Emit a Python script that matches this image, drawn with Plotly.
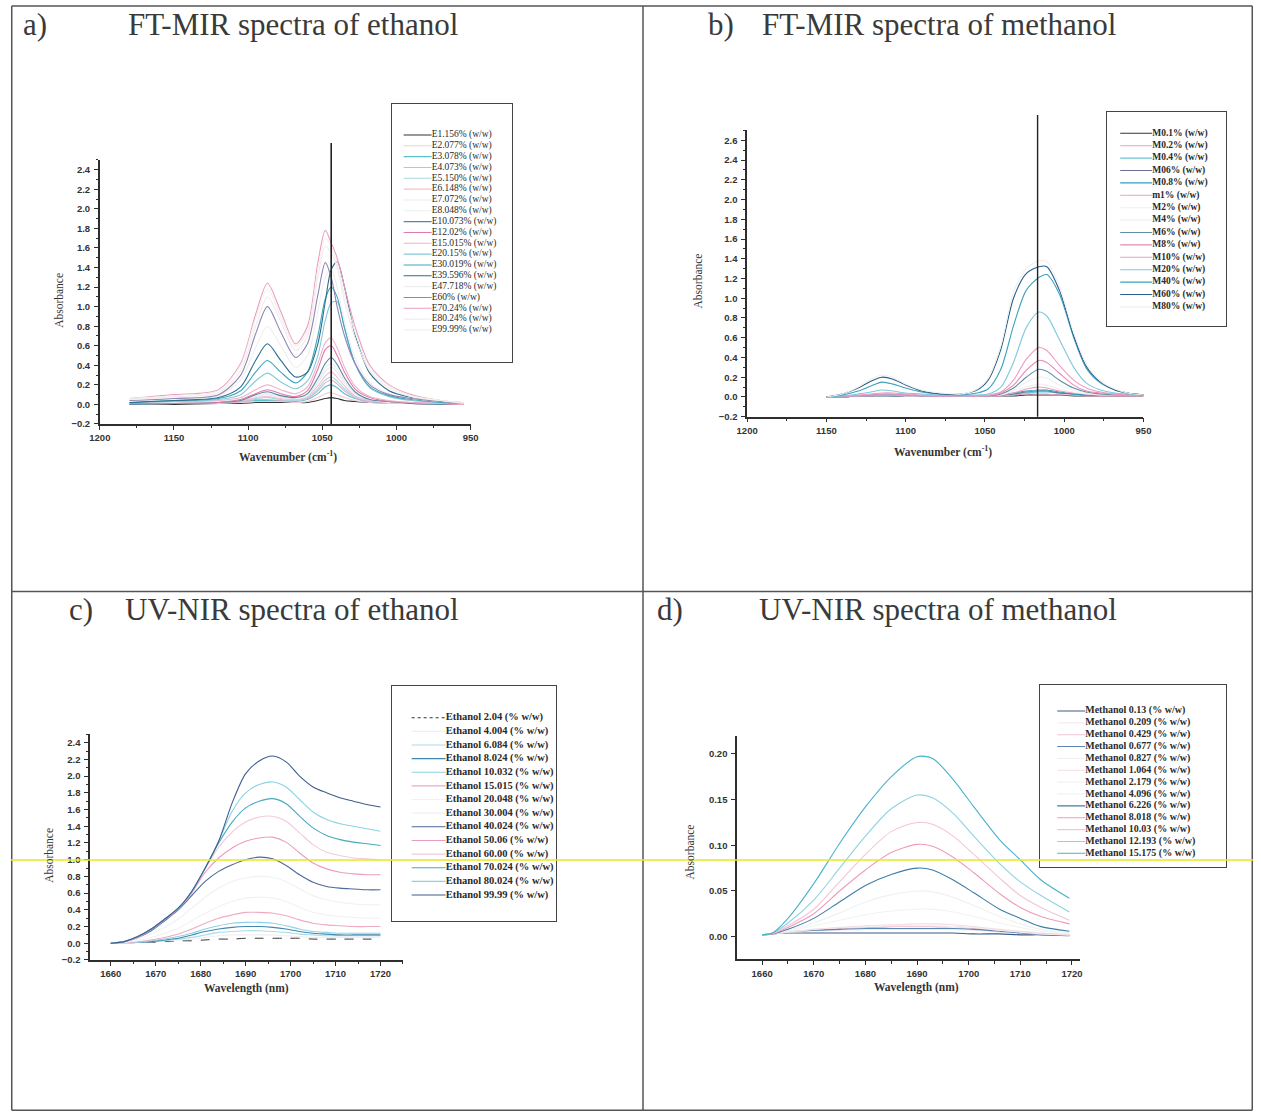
import plotly.graph_objects as go

W, H = 1261, 1116

# page layout helpers: positions are given in page pixels and converted to
# paper fractions; a small scale factor keeps the outer frame inside the page
SX, OX = 0.98555, 17.0
SY, OY = 0.9955, 6.0


def X(x):
    return 7 + (x - OX) / SX


def Y(y):
    return OY + (y - OY) / SY


def px(x):
    return min(max(X(x), 0.0), W) / W


def py(y):
    return 1 - min(max(Y(y), 0.0), H) / H


# ---------------------------------------------------------------- a) FT-MIR ethanol
mir_eth_x = [1180, 1150, 1120, 1105, 1095, 1087, 1078, 1068, 1060, 1053,
             1048, 1044, 1040, 1035, 1028, 1018, 1005, 990, 970, 955]
mir_eth_names = ["E1.156% (w/w)", "E2.077% (w/w)", "E3.078% (w/w)", "E4.073% (w/w)",
                 "E5.150% (w/w)", "E6.148% (w/w)", "E7.072% (w/w)", "E8.048% (w/w)",
                 "E10.073% (w/w)", "E12.02% (w/w)", "E15.015% (w/w)", "E20.15% (w/w)",
                 "E30.019% (w/w)", "E39.596% (w/w)", "E47.718% (w/w)", "E60% (w/w)",
                 "E70.24% (w/w)", "E80.24% (w/w)", "E99.99% (w/w)"]
mir_eth_colors = ["#333333", "#f2cdd8", "#5cbfcc", "#dcb3cc", "#a6dae6", "#f2c0ce",
                  "#efe8eb", "#e9efef", "#5a86a0", "#e07aae", "#efb5ca", "#86c9d6",
                  "#3fa6c2", "#2b6d8e", "#eeeeee", "#8f86b4", "#ec9cc4", "#f2ebee",
                  "#f1f1ea"]
mir_eth_y = [
    [0.00, 0.00, 0.01, 0.01, 0.02, 0.02, 0.02, 0.02, 0.02, 0.04, 0.06, 0.07, 0.06, 0.04, 0.03, 0.02, 0.01, 0.01, 0.00, 0.00],
    [0.00, 0.01, 0.01, 0.02, 0.03, 0.03, 0.03, 0.02, 0.03, 0.07, 0.11, 0.12, 0.10, 0.07, 0.04, 0.02, 0.01, 0.01, 0.00, 0.00],
    [0.01, 0.01, 0.02, 0.03, 0.04, 0.04, 0.04, 0.03, 0.05, 0.11, 0.18, 0.20, 0.17, 0.11, 0.06, 0.03, 0.02, 0.01, 0.01, 0.00],
    [0.00, 0.01, 0.02, 0.03, 0.05, 0.05, 0.04, 0.04, 0.06, 0.14, 0.22, 0.25, 0.21, 0.14, 0.07, 0.03, 0.02, 0.01, 0.00, 0.00],
    [0.01, 0.02, 0.02, 0.04, 0.06, 0.07, 0.05, 0.04, 0.07, 0.16, 0.25, 0.28, 0.24, 0.16, 0.08, 0.04, 0.02, 0.01, 0.01, 0.00],
    [0.01, 0.02, 0.03, 0.04, 0.07, 0.08, 0.06, 0.05, 0.08, 0.19, 0.29, 0.33, 0.28, 0.19, 0.09, 0.04, 0.02, 0.01, 0.01, 0.00],
    [0.01, 0.02, 0.03, 0.05, 0.08, 0.10, 0.07, 0.06, 0.09, 0.22, 0.34, 0.38, 0.33, 0.22, 0.11, 0.05, 0.02, 0.01, 0.01, 0.00],
    [0.01, 0.02, 0.03, 0.05, 0.09, 0.11, 0.08, 0.06, 0.10, 0.24, 0.37, 0.42, 0.36, 0.24, 0.12, 0.05, 0.03, 0.01, 0.01, 0.00],
    [0.00, 0.01, 0.02, 0.04, 0.10, 0.13, 0.09, 0.07, 0.11, 0.27, 0.42, 0.48, 0.41, 0.27, 0.13, 0.05, 0.03, 0.01, 0.00, 0.00],
    [0.01, 0.01, 0.02, 0.05, 0.11, 0.15, 0.11, 0.08, 0.14, 0.36, 0.56, 0.60, 0.50, 0.33, 0.16, 0.07, 0.03, 0.02, 0.01, 0.00],
    [0.02, 0.03, 0.04, 0.07, 0.15, 0.20, 0.15, 0.11, 0.18, 0.42, 0.63, 0.68, 0.58, 0.38, 0.19, 0.08, 0.04, 0.02, 0.01, 0.00],
    [0.02, 0.03, 0.05, 0.10, 0.24, 0.32, 0.23, 0.16, 0.24, 0.50, 0.86, 1.04, 1.05, 0.78, 0.42, 0.17, 0.08, 0.04, 0.02, 0.01],
    [0.02, 0.04, 0.06, 0.14, 0.33, 0.45, 0.33, 0.22, 0.33, 0.70, 1.08, 1.20, 1.10, 0.78, 0.42, 0.18, 0.09, 0.05, 0.02, 0.01],
    [0.02, 0.04, 0.07, 0.18, 0.45, 0.62, 0.45, 0.28, 0.33, 0.62, 1.05, 1.38, 1.46, 1.20, 0.72, 0.32, 0.14, 0.07, 0.03, 0.01],
    [0.04, 0.06, 0.09, 0.25, 0.58, 0.80, 0.60, 0.38, 0.50, 0.95, 1.30, 1.38, 1.20, 0.85, 0.48, 0.22, 0.11, 0.06, 0.03, 0.01],
    [0.04, 0.06, 0.10, 0.30, 0.72, 1.00, 0.74, 0.48, 0.62, 1.12, 1.45, 1.30, 1.00, 0.70, 0.42, 0.20, 0.10, 0.06, 0.03, 0.01],
    [0.06, 0.10, 0.15, 0.42, 0.92, 1.24, 0.95, 0.62, 0.80, 1.45, 1.78, 1.65, 1.50, 1.20, 0.80, 0.40, 0.20, 0.10, 0.04, 0.02],
    [0.05, 0.08, 0.12, 0.35, 0.80, 1.10, 0.85, 0.55, 0.70, 1.30, 1.62, 1.55, 1.40, 1.05, 0.68, 0.34, 0.17, 0.08, 0.04, 0.01],
    [0.06, 0.09, 0.14, 0.40, 0.88, 1.18, 0.90, 0.60, 0.75, 1.38, 1.70, 1.62, 1.45, 1.12, 0.74, 0.37, 0.19, 0.09, 0.04, 0.02],
]
mir_eth_marker = 1044

# ---------------------------------------------------------------- b) FT-MIR methanol
mir_met_x = [1150, 1140, 1130, 1122, 1115, 1108, 1100, 1090, 1078, 1065, 1055, 1048,
             1040, 1032, 1024, 1016, 1011, 1003, 994, 986, 977, 968, 960, 950]
mir_met_names = ["M0.1% (w/w)", "M0.2% (w/w)", "M0.4% (w/w)", "M06% (w/w)", "M0.8% (w/w)",
                 "m1% (w/w)", "M2% (w/w)", "M4% (w/w)", "M6% (w/w)", "M8% (w/w)",
                 "M10% (w/w)", "M20% (w/w)", "M40% (w/w)", "M60% (w/w)", "M80% (w/w)"]
mir_met_colors = ["#333333", "#ee9fc0", "#6cc6d4", "#6b6f93", "#2f9fbf", "#ee9fc4",
                  "#f3eef0", "#eef2f2", "#5f8ea6", "#e58ab5", "#ef9cc6", "#7fc7dc",
                  "#3ba2c0", "#2a5f8c", "#f2f0ee"]
mir_met_y = [
    [0.00, 0.00, 0.01, 0.01, 0.01, 0.01, 0.01, 0.01, 0.01, 0.01, 0.01, 0.01, 0.01, 0.01, 0.02, 0.02, 0.02, 0.02, 0.01, 0.01, 0.01, 0.01, 0.01, 0.01],
    [0.00, 0.00, 0.01, 0.01, 0.01, 0.01, 0.01, 0.01, 0.01, 0.01, 0.01, 0.01, 0.01, 0.02, 0.03, 0.03, 0.03, 0.02, 0.02, 0.01, 0.01, 0.01, 0.01, 0.01],
    [0.00, 0.00, 0.01, 0.01, 0.01, 0.01, 0.01, 0.01, 0.01, 0.01, 0.01, 0.01, 0.02, 0.03, 0.04, 0.05, 0.05, 0.04, 0.03, 0.02, 0.02, 0.02, 0.02, 0.02],
    [0.00, 0.00, 0.01, 0.01, 0.02, 0.01, 0.01, 0.01, 0.01, 0.01, 0.01, 0.01, 0.02, 0.03, 0.05, 0.06, 0.06, 0.04, 0.03, 0.02, 0.02, 0.02, 0.02, 0.02],
    [0.00, 0.00, 0.01, 0.01, 0.02, 0.02, 0.01, 0.01, 0.01, 0.01, 0.01, 0.01, 0.02, 0.04, 0.06, 0.07, 0.07, 0.05, 0.03, 0.02, 0.02, 0.02, 0.02, 0.02],
    [0.00, 0.00, 0.01, 0.01, 0.02, 0.02, 0.01, 0.01, 0.01, 0.01, 0.01, 0.01, 0.02, 0.04, 0.08, 0.10, 0.09, 0.06, 0.04, 0.03, 0.02, 0.02, 0.02, 0.02],
    [0.00, 0.01, 0.01, 0.02, 0.02, 0.02, 0.01, 0.01, 0.01, 0.01, 0.01, 0.01, 0.02, 0.06, 0.10, 0.13, 0.12, 0.08, 0.05, 0.03, 0.02, 0.02, 0.02, 0.02],
    [0.00, 0.01, 0.01, 0.02, 0.02, 0.02, 0.02, 0.01, 0.01, 0.01, 0.01, 0.01, 0.03, 0.07, 0.15, 0.20, 0.19, 0.12, 0.07, 0.04, 0.03, 0.02, 0.02, 0.02],
    [0.00, 0.01, 0.01, 0.02, 0.02, 0.02, 0.02, 0.01, 0.01, 0.01, 0.01, 0.01, 0.03, 0.09, 0.20, 0.28, 0.26, 0.17, 0.09, 0.05, 0.03, 0.02, 0.02, 0.02],
    [0.00, 0.01, 0.01, 0.02, 0.03, 0.03, 0.02, 0.01, 0.01, 0.01, 0.01, 0.01, 0.04, 0.12, 0.27, 0.37, 0.35, 0.24, 0.12, 0.06, 0.04, 0.03, 0.02, 0.02],
    [0.00, 0.01, 0.02, 0.03, 0.04, 0.04, 0.03, 0.02, 0.01, 0.01, 0.01, 0.02, 0.05, 0.17, 0.38, 0.50, 0.47, 0.32, 0.17, 0.09, 0.05, 0.03, 0.02, 0.02],
    [0.00, 0.01, 0.03, 0.05, 0.07, 0.06, 0.04, 0.03, 0.02, 0.01, 0.02, 0.03, 0.10, 0.35, 0.70, 0.86, 0.82, 0.58, 0.30, 0.14, 0.07, 0.04, 0.03, 0.02],
    [0.00, 0.02, 0.06, 0.11, 0.15, 0.13, 0.09, 0.05, 0.03, 0.02, 0.04, 0.08, 0.28, 0.72, 1.08, 1.21, 1.24, 1.04, 0.60, 0.29, 0.14, 0.07, 0.04, 0.02],
    [0.00, 0.03, 0.09, 0.16, 0.20, 0.18, 0.12, 0.06, 0.03, 0.03, 0.07, 0.17, 0.48, 1.00, 1.25, 1.32, 1.32, 1.08, 0.62, 0.31, 0.15, 0.07, 0.04, 0.02],
    [0.00, 0.03, 0.10, 0.18, 0.22, 0.20, 0.13, 0.07, 0.04, 0.03, 0.08, 0.19, 0.52, 1.06, 1.30, 1.38, 1.37, 1.12, 0.65, 0.33, 0.16, 0.08, 0.04, 0.02],
]
mir_met_marker = 1016.8

# ---------------------------------------------------------------- c) UV-NIR ethanol
nir_eth_x = [1660, 1663, 1666, 1669, 1672, 1675, 1678, 1681, 1684, 1687, 1690,
             1693, 1696, 1699, 1702, 1705, 1708, 1711, 1714, 1717, 1720]
nir_eth_names = ["Ethanol 2.04 (% w/w)", "Ethanol 4.004 (% w/w)", "Ethanol 6.084 (% w/w)",
                 "Ethanol 8.024 (% w/w)", "Ethanol 10.032 (% w/w)", "Ethanol 15.015 (% w/w)",
                 "Ethanol 20.048 (% w/w)", "Ethanol 30.004 (% w/w)", "Ethanol 40.024 (% w/w)",
                 "Ethanol 50.06 (% w/w)", "Ethanol 60.00 (% w/w)", "Ethanol 70.024 (% w/w)",
                 "Ethanol 80.024 (% w/w)", "Ethanol 99.99 (% w/w)"]
nir_eth_colors = ["#333333", "#f3eef0", "#a9dce8", "#3f88ae", "#8fd3e2", "#efaac4",
                  "#f4f0f0", "#eef2f2", "#4d6a98", "#ec9cc0", "#f1cadb", "#46a9c2",
                  "#8bd2e2", "#3f5d8c"]
nir_eth_dash = ["dash"] + ["solid"] * 13
nir_eth_y = [
    [0.00, 0.00, 0.01, 0.01, 0.02, 0.03, 0.03, 0.04, 0.05, 0.05, 0.06, 0.06, 0.06, 0.06, 0.06, 0.05, 0.05, 0.05, 0.05, 0.05, 0.05],
    [0.00, 0.00, 0.01, 0.02, 0.03, 0.04, 0.05, 0.07, 0.09, 0.10, 0.10, 0.10, 0.10, 0.09, 0.08, 0.07, 0.07, 0.07, 0.07, 0.07, 0.07],
    [0.00, 0.00, 0.01, 0.02, 0.03, 0.05, 0.07, 0.10, 0.13, 0.14, 0.15, 0.15, 0.14, 0.13, 0.11, 0.10, 0.09, 0.09, 0.09, 0.09, 0.09],
    [0.00, 0.01, 0.01, 0.02, 0.04, 0.06, 0.10, 0.14, 0.17, 0.19, 0.20, 0.20, 0.19, 0.17, 0.14, 0.12, 0.11, 0.10, 0.10, 0.10, 0.10],
    [0.00, 0.01, 0.01, 0.03, 0.05, 0.08, 0.12, 0.17, 0.21, 0.24, 0.25, 0.25, 0.24, 0.21, 0.17, 0.14, 0.13, 0.12, 0.12, 0.12, 0.12],
    [0.00, 0.01, 0.02, 0.04, 0.07, 0.11, 0.17, 0.24, 0.30, 0.34, 0.37, 0.37, 0.36, 0.33, 0.28, 0.24, 0.22, 0.21, 0.20, 0.20, 0.20],
    [0.00, 0.01, 0.03, 0.07, 0.12, 0.18, 0.27, 0.36, 0.44, 0.50, 0.54, 0.55, 0.54, 0.50, 0.43, 0.37, 0.34, 0.32, 0.31, 0.30, 0.30],
    [0.00, 0.02, 0.05, 0.11, 0.19, 0.29, 0.42, 0.55, 0.66, 0.74, 0.78, 0.80, 0.79, 0.74, 0.65, 0.57, 0.52, 0.49, 0.47, 0.46, 0.46],
    [0.00, 0.02, 0.07, 0.15, 0.27, 0.40, 0.57, 0.74, 0.86, 0.94, 1.00, 1.03, 1.01, 0.93, 0.82, 0.73, 0.68, 0.66, 0.65, 0.64, 0.64],
    [0.00, 0.02, 0.07, 0.16, 0.28, 0.41, 0.60, 0.85, 1.02, 1.14, 1.22, 1.26, 1.27, 1.21, 1.08, 0.96, 0.89, 0.85, 0.83, 0.82, 0.82],
    [0.00, 0.02, 0.08, 0.17, 0.29, 0.42, 0.62, 0.89, 1.15, 1.33, 1.45, 1.51, 1.52, 1.46, 1.32, 1.18, 1.09, 1.05, 1.02, 1.01, 1.00],
    [0.00, 0.02, 0.08, 0.17, 0.29, 0.42, 0.62, 0.90, 1.20, 1.45, 1.62, 1.70, 1.73, 1.67, 1.52, 1.38, 1.29, 1.24, 1.21, 1.19, 1.17],
    [0.00, 0.02, 0.08, 0.17, 0.29, 0.42, 0.62, 0.90, 1.22, 1.58, 1.80, 1.90, 1.93, 1.87, 1.72, 1.57, 1.48, 1.43, 1.40, 1.37, 1.34],
    [0.00, 0.02, 0.08, 0.17, 0.29, 0.42, 0.62, 0.90, 1.22, 1.68, 2.03, 2.18, 2.24, 2.17, 2.00, 1.87, 1.80, 1.74, 1.70, 1.66, 1.63],
]

# ---------------------------------------------------------------- d) UV-NIR methanol
nir_met_x = [1660, 1662, 1665, 1670, 1675, 1680, 1685, 1690, 1693, 1697,
             1701, 1706, 1710, 1714, 1719.5]
nir_met_names = ["Methanol 0.13 (% w/w)", "Methanol 0.209 (% w/w)", "Methanol 0.429 (% w/w)",
                 "Methanol 0.677 (% w/w)", "Methanol 0.827 (% w/w)", "Methanol 1.064 (% w/w)",
                 "Methanol 2.179 (% w/w)", "Methanol 4.096 (% w/w)", "Methanol 6.226 (% w/w)",
                 "Methanol 8.018 (% w/w)", "Methanol 10.03 (% w/w)", "Methanol 12.193 (% w/w)",
                 "Methanol 15.175 (% w/w)"]
nir_met_colors = ["#3e5a86", "#f1eef0", "#f0c3d3", "#5b86b0", "#f2eff0", "#f4dde4",
                  "#f2f2ee", "#eef2f2", "#3f7ea6", "#ee9cbe", "#f2c6d6", "#8ed3e2",
                  "#49b3cc"]
nir_met_y = [
    [0.002, 0.003, 0.004, 0.004, 0.004, 0.004, 0.004, 0.004, 0.004, 0.004, 0.003, 0.003, 0.002, 0.002, 0.001],
    [0.002, 0.003, 0.005, 0.006, 0.007, 0.008, 0.008, 0.008, 0.008, 0.008, 0.007, 0.005, 0.004, 0.003, 0.002],
    [0.002, 0.003, 0.005, 0.007, 0.009, 0.010, 0.011, 0.011, 0.011, 0.011, 0.009, 0.007, 0.005, 0.003, 0.002],
    [0.002, 0.003, 0.005, 0.007, 0.008, 0.009, 0.009, 0.009, 0.009, 0.009, 0.008, 0.006, 0.004, 0.003, 0.002],
    [0.002, 0.003, 0.005, 0.008, 0.010, 0.011, 0.012, 0.012, 0.012, 0.011, 0.010, 0.007, 0.005, 0.003, 0.002],
    [0.002, 0.003, 0.005, 0.008, 0.010, 0.012, 0.013, 0.014, 0.014, 0.013, 0.011, 0.008, 0.006, 0.004, 0.002],
    [0.002, 0.003, 0.006, 0.012, 0.018, 0.024, 0.028, 0.030, 0.030, 0.027, 0.022, 0.015, 0.010, 0.006, 0.003],
    [0.002, 0.003, 0.007, 0.015, 0.026, 0.038, 0.046, 0.050, 0.049, 0.043, 0.034, 0.022, 0.014, 0.008, 0.004],
    [0.002, 0.003, 0.008, 0.020, 0.038, 0.056, 0.068, 0.075, 0.073, 0.062, 0.048, 0.030, 0.020, 0.011, 0.006],
    [0.002, 0.003, 0.010, 0.025, 0.050, 0.073, 0.092, 0.101, 0.099, 0.087, 0.070, 0.047, 0.032, 0.022, 0.014],
    [0.002, 0.004, 0.012, 0.030, 0.060, 0.090, 0.115, 0.125, 0.123, 0.110, 0.090, 0.064, 0.045, 0.032, 0.018],
    [0.002, 0.004, 0.015, 0.040, 0.075, 0.110, 0.140, 0.155, 0.152, 0.135, 0.110, 0.080, 0.060, 0.045, 0.027],
    [0.002, 0.004, 0.020, 0.058, 0.102, 0.142, 0.175, 0.197, 0.195, 0.172, 0.142, 0.106, 0.084, 0.062, 0.042],
]

# ---------------------------------------------------------------- panel geometry (pixels)
panels = {
    "a": dict(x=(99, 470), y=(160, 424), xr=[1200, 950], yr=[-0.2, 2.5]),
    "b": dict(x=(746.7, 1143.3), y=(130.5, 416.7), xr=[1200, 950], yr=[-0.2, 2.7]),
    "c": dict(x=(89.3, 402.3), y=(734.3, 960), xr=[1655.4, 1725], yr=[-0.2, 2.5]),
    "d": dict(x=(736.7, 1080), y=(735.7, 959.5), xr=[1655.16, 1721.6], yr=[-0.025, 0.22]),
}
legends = {
    "a": dict(L=391, R=511, T=104, B=362, first=135, step=10.83, l0=403, l1=431, t=431, size=9.5, bold=False),
    "b": dict(L=1107, R=1226, T=112, B=326, first=133.3, step=12.4, l0=1120, l1=1152, t=1152, size=9.5, bold=True),
    "c": dict(L=391, R=555, T=686, B=921, first=717.7, step=13.64, l0=411, l1=445, t=445, size=10.5, bold=True),
    "d": dict(L=1040, R=1226, T=685, B=867, first=711, step=11.86, l0=1057, l1=1085, t=1085, size=10, bold=True),
}

fig = go.Figure()

AXIS_COLOR = "#2e2e2e"
TICK_FONT = dict(family="Liberation Sans", size=9.5, color="#333333", weight="bold")


def add_panel(idx, xs, ys, names, colors, dashes=None):
    xa = "x" if idx == 1 else f"x{idx}"
    ya = "y" if idx == 1 else f"y{idx}"
    for i, (yv, nm, col) in enumerate(zip(ys, names, colors)):
        dash = dashes[i] if dashes else "solid"
        fig.add_trace(go.Scatter(
            x=xs, y=yv, name=nm, mode="lines", xaxis=xa, yaxis=ya,
            line=dict(color=col, width=(1.0 if dash != "solid" else 1.1),
                      shape="spline", smoothing=0.8, dash=dash),
            showlegend=False, hoverinfo="skip"))


def add_legend_box(idx, key, names, colors, dashes=None):
    g = legends[key]
    xa = f"x{idx}"
    ya = f"y{idx}"
    n = len(names)
    x0 = X(g["L"])
    for i, (nm, col) in enumerate(zip(names, colors)):
        dash = dashes[i] if dashes else "solid"
        fig.add_trace(go.Scatter(
            x=[X(g["l0"]) - x0, X(g["l1"]) - x0], y=[i, i], mode="lines",
            xaxis=xa, yaxis=ya, showlegend=False, hoverinfo="skip",
            line=dict(color=col, width=1.1, dash=("dot" if dash != "solid" else "solid"))))
    fig.add_trace(go.Scatter(
        x=[X(g["t"]) - x0] * n, y=list(range(n)), mode="text", text=names,
        textposition="middle right", xaxis=xa, yaxis=ya, showlegend=False,
        hoverinfo="skip", cliponaxis=False,
        textfont=dict(family="Liberation Serif", size=g["size"], color="#2a2a2a",
                      weight=("bold" if g["bold"] else "normal"))))
    step = (Y(g["first"] + g["step"]) - Y(g["first"]))
    r0 = (Y(g["B"]) - Y(g["first"])) / step
    r1 = -(Y(g["first"]) - Y(g["T"])) / step
    fig.update_layout(**{
        f"xaxis{idx}": dict(domain=[px(g["L"]), px(g["R"])], range=[0, X(g["R"]) - x0],
                            showline=True, mirror=True, linecolor="#444444", linewidth=1,
                            showticklabels=False, showgrid=False, zeroline=False,
                            ticks="", anchor=ya, fixedrange=True),
        f"yaxis{idx}": dict(domain=[py(g["B"]), py(g["T"])], range=[r0, r1],
                            showline=True, mirror=True, linecolor="#444444", linewidth=1,
                            showticklabels=False, showgrid=False, zeroline=False,
                            ticks="", anchor=xa, fixedrange=True),
    })


def style_axes(idx, key, xdtick, xminor, ydtick, yminor, ytickformat=".1f"):
    p = panels[key]
    xname = "xaxis" if idx == 1 else f"xaxis{idx}"
    yname = "yaxis" if idx == 1 else f"yaxis{idx}"
    xa = "x" if idx == 1 else f"x{idx}"
    ya = "y" if idx == 1 else f"y{idx}"
    xdict = dict(domain=[px(p["x"][0]), px(p["x"][1])], range=p["xr"], anchor=ya,
                 showline=True, linecolor=AXIS_COLOR, linewidth=1.6, mirror=False,
                 ticks="outside", ticklen=4, tickwidth=1.3, tickcolor=AXIS_COLOR,
                 dtick=xdtick, tick0=0, showgrid=False, zeroline=False,
                 tickfont=TICK_FONT, ticklabelstandoff=0,
                 minor=dict(ticks="outside", ticklen=2.5, tickwidth=1, tickcolor=AXIS_COLOR,
                            dtick=xminor, tick0=0, showgrid=False))
    ydict = dict(domain=[py(p["y"][1]), py(p["y"][0])], range=p["yr"], anchor=xa,
                 showline=True, linecolor=AXIS_COLOR, linewidth=1.6, mirror=False,
                 ticks="outside", ticklen=4, tickwidth=1.3, tickcolor=AXIS_COLOR,
                 dtick=ydtick, tick0=0, showgrid=False, zeroline=False,
                 tickfont=TICK_FONT, ticklabelstandoff=2, tickformat=ytickformat)
    if yminor:
        ydict["minor"] = dict(ticks="outside", ticklen=2.5, tickwidth=1, tickcolor=AXIS_COLOR,
                              dtick=yminor, tick0=0, showgrid=False)
    fig.update_layout(**{xname: xdict, yname: ydict})


add_panel(1, mir_eth_x, mir_eth_y, mir_eth_names, mir_eth_colors)
add_panel(2, mir_met_x, mir_met_y, mir_met_names, mir_met_colors)
add_panel(3, nir_eth_x, nir_eth_y, nir_eth_names, nir_eth_colors, nir_eth_dash)
add_panel(4, nir_met_x, nir_met_y, nir_met_names, nir_met_colors)

style_axes(1, "a", 50, 25, 0.2, 0.1)
style_axes(2, "b", 50, 25, 0.2, 0.1)
style_axes(3, "c", 10, 5, 0.2, 0.1)
style_axes(4, "d", 10, 5, 0.05, None, ".2f")

add_legend_box(5, "a", mir_eth_names, mir_eth_colors)
add_legend_box(6, "b", mir_met_names, mir_met_colors)
add_legend_box(7, "c", nir_eth_names, nir_eth_colors, nir_eth_dash)
add_legend_box(8, "d", nir_met_names, nir_met_colors)

# ---------------------------------------------------------------- frame, markers, titles
shapes = []
frame = dict(type="line", xref="paper", yref="paper", line=dict(color="#555555", width=1.5))
left, right, top, bottom = 0.75 / W, 1 - 0.75 / W, py(6), max(py(1112), 0.75 / H)
shapes.append({**frame, "x0": left, "x1": left, "y0": top, "y1": bottom})
shapes.append({**frame, "x0": right, "x1": right, "y0": top, "y1": bottom})
shapes.append({**frame, "x0": left, "x1": right, "y0": top, "y1": top})
shapes.append({**frame, "x0": left, "x1": right, "y0": bottom, "y1": bottom})
shapes.append({**frame, "x0": px(642.5), "x1": px(642.5), "y0": top, "y1": bottom})
shapes.append({**frame, "x0": left, "x1": right, "y0": py(591.5), "y1": py(591.5)})

# vertical reference lines at the main C-O stretching bands
shapes.append(dict(type="line", xref="x", yref="paper", x0=mir_eth_marker, x1=mir_eth_marker,
                   y0=py(424), y1=py(143), line=dict(color="#222222", width=1.6)))
shapes.append(dict(type="line", xref="x2", yref="paper", x0=mir_met_marker, x1=mir_met_marker,
                   y0=py(416.7), y1=py(115), line=dict(color="#222222", width=1.4)))

# faint yellow scan line across the lower panels
shapes.append(dict(type="line", xref="paper", yref="paper", x0=0, x1=1, y0=py(860), y1=py(860),
                   line=dict(color="#eaea1c", width=1.5), layer="above"))

annotations = []
TITLE_FONT = dict(family="Liberation Serif", size=31, color="#3a3a3a")
for label, lx, text, tx, ty in [("a)", 20, "FT-MIR spectra of ethanol", 292, 25),
                                 ("b)", 706, "FT-MIR spectra of methanol", 939, 25),
                                 ("c)", 66, "UV-NIR spectra of ethanol", 291, 610),
                                 ("d)", 655, "UV-NIR spectra of methanol", 938, 610)]:
    annotations.append(dict(text=label, x=px(lx), y=py(ty), xref="paper", yref="paper",
                            xanchor="left", yanchor="middle", showarrow=False, font=TITLE_FONT))
    annotations.append(dict(text=text, x=px(tx), y=py(ty), xref="paper", yref="paper",
                            xanchor="center", yanchor="middle", showarrow=False, font=TITLE_FONT))

AX_TITLE = dict(family="Liberation Serif", size=11.5, color="#333333", weight="bold")
YT_FONT = dict(family="Liberation Serif", size=11.5, color="#333333")
for tx, ty, text in [(287, 457, "Wavenumber (cm<sup>-1</sup>)"),
                     (943, 452, "Wavenumber (cm<sup>-1</sup>)"),
                     (246, 989, "Wavelength (nm)"),
                     (916, 988, "Wavelength (nm)")]:
    annotations.append(dict(text=text, x=px(tx), y=py(ty), xref="paper", yref="paper",
                            xanchor="center", yanchor="middle", showarrow=False, font=AX_TITLE))
for tx, ty in [(58, 300), (698, 281), (48, 855), (690, 852)]:
    annotations.append(dict(text="Absorbance", x=px(tx), y=py(ty), xref="paper", yref="paper",
                            xanchor="center", yanchor="middle", showarrow=False, textangle=-90,
                            font=YT_FONT))

fig.update_layout(
    width=W, height=H, margin=dict(l=0, r=0, t=0, b=0),
    paper_bgcolor="white", plot_bgcolor="rgba(0,0,0,0)",
    shapes=shapes, annotations=annotations, showlegend=False,
)

fig.write_html("out.html")
